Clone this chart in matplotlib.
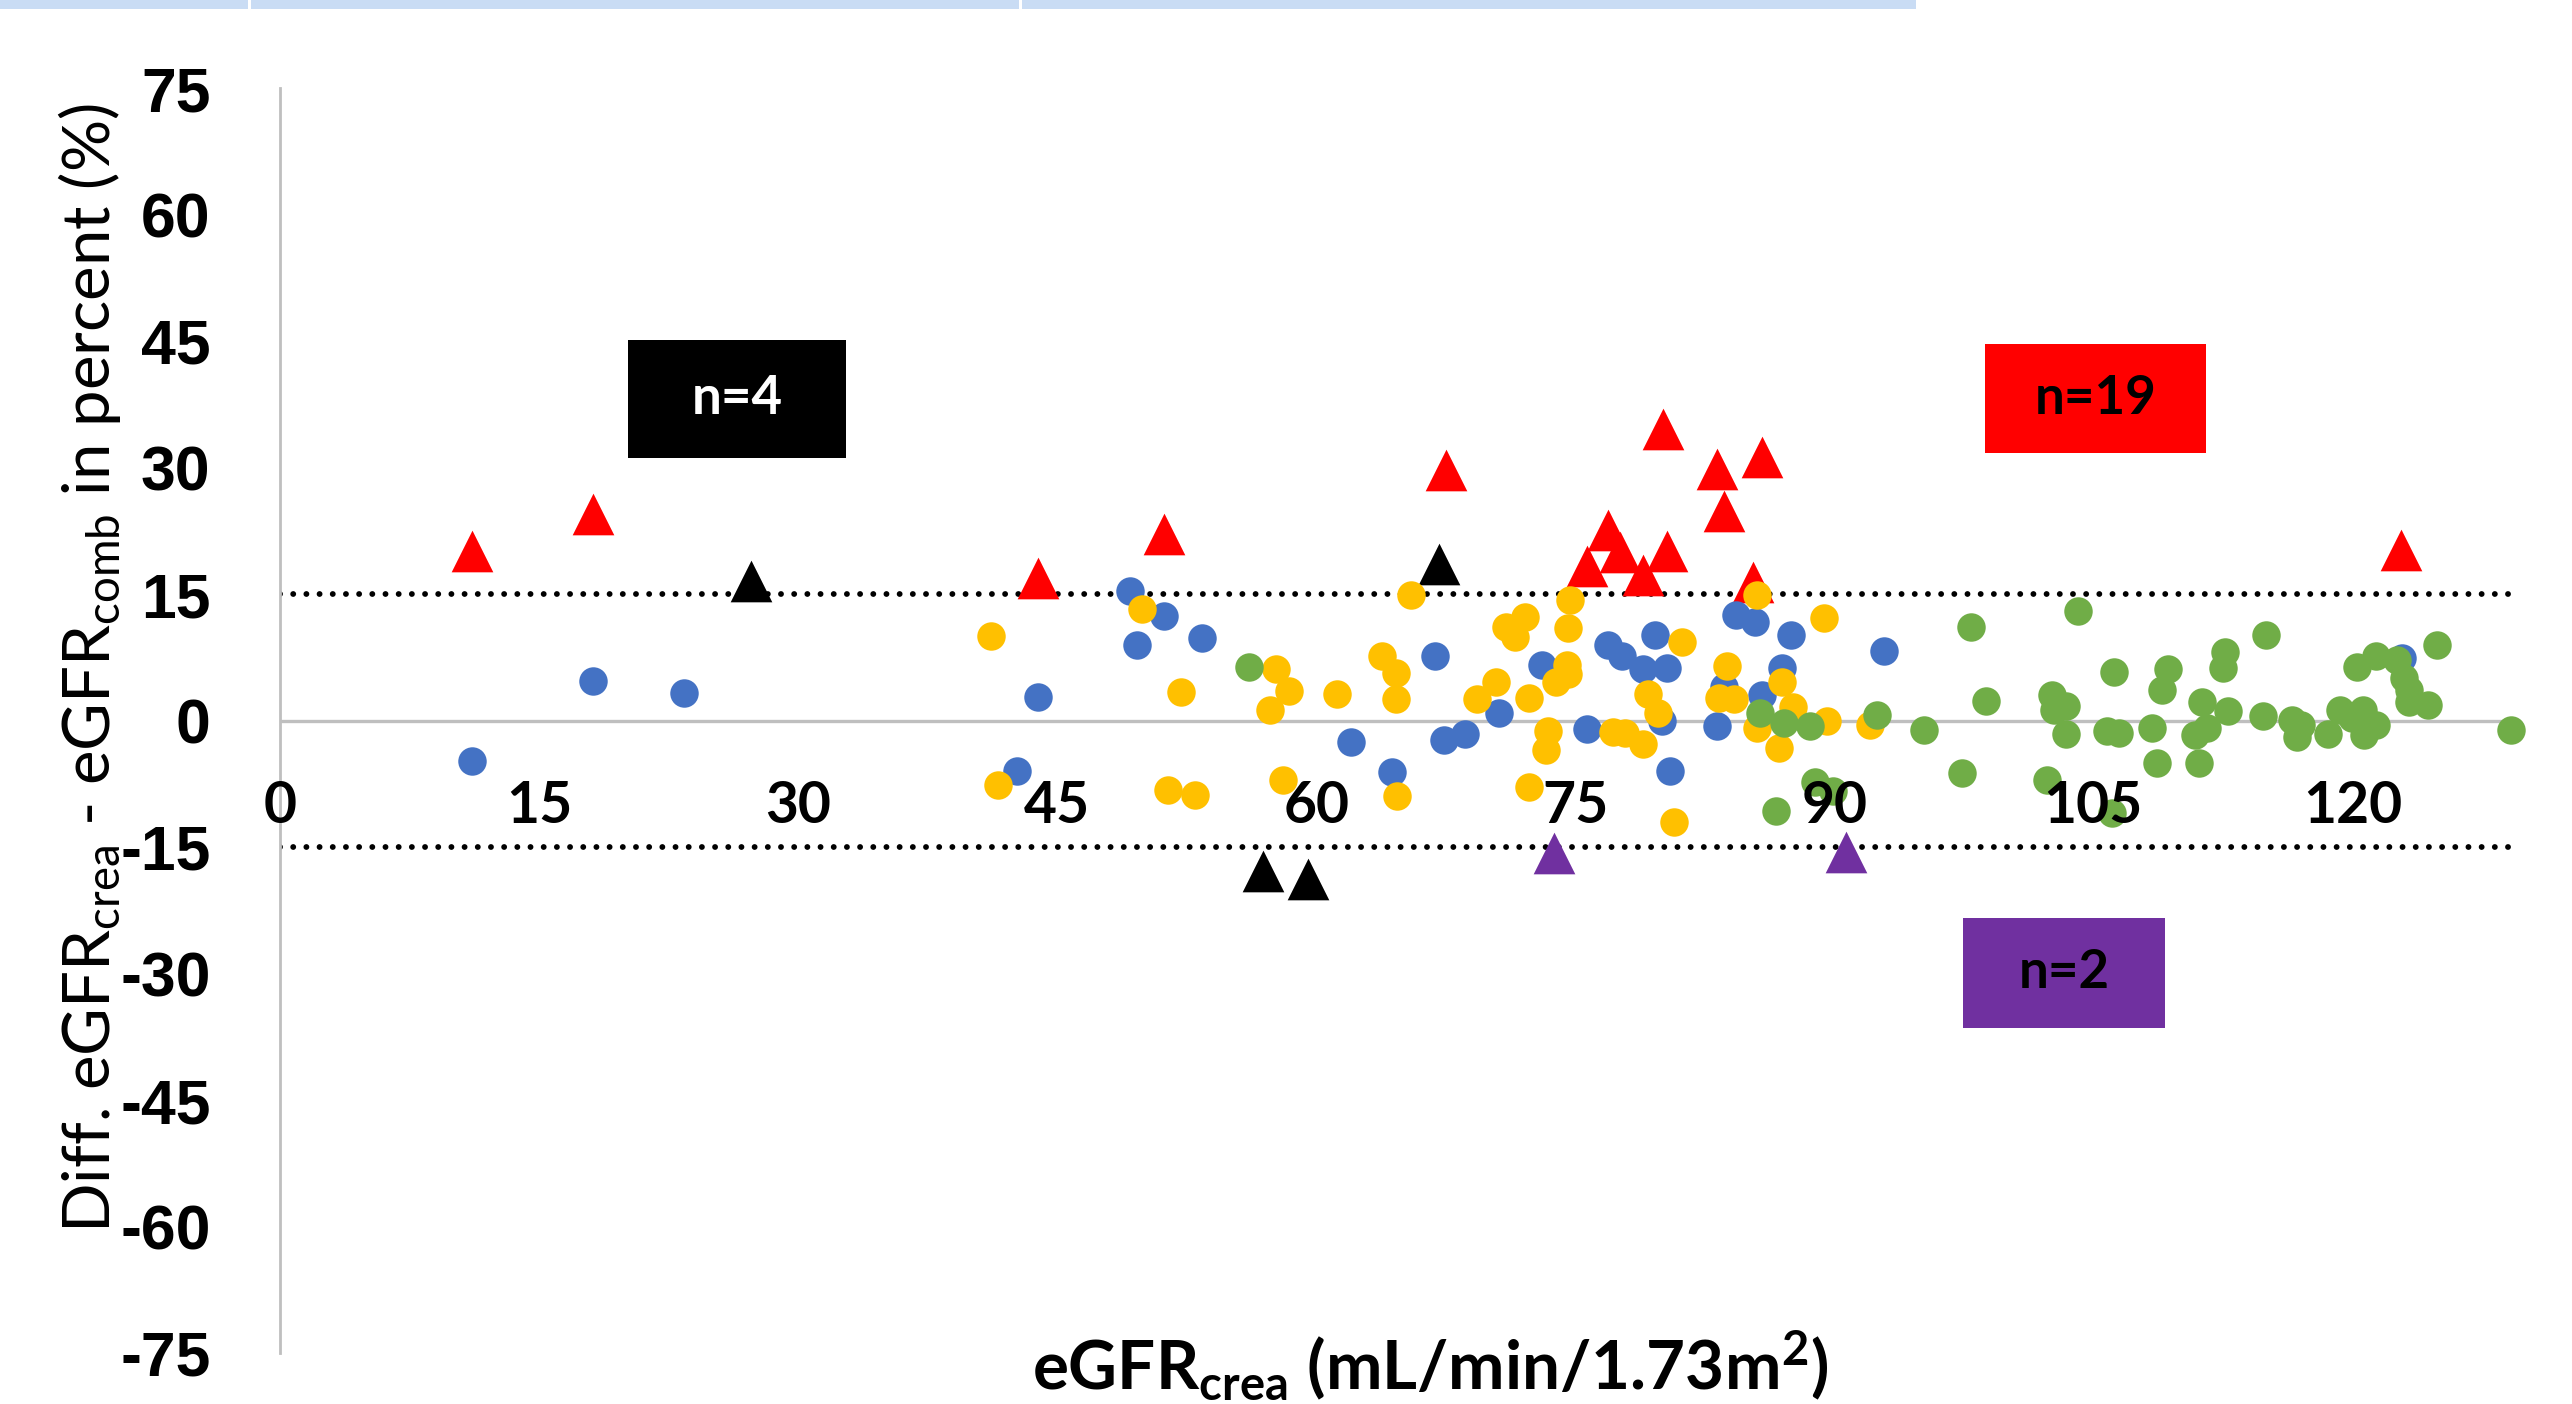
import matplotlib
matplotlib.use('Agg')
import matplotlib.pyplot as plt
from matplotlib.patches import Rectangle

W, H, DPI = 2572, 1404, 100

# ---------------- data ----------------
x_ticks = [0, 15, 30, 45, 60, 75, 90, 105, 120]
y_ticks = [75, 60, 45, 30, 15, 0, -15, -30, -45, -60, -75]
y_tick_labels = ['75', '60', '45', '30', '15', '0', '-15', '-30', '-45', '-60', '-75']
limits = [15, -15]

blue_x = [11.1, 18.1, 23.4, 43.9, 42.7, 49.2, 51.2, 53.4, 49.6, 62.0, 64.4, 66.9, 67.4,
          68.6, 70.6, 73.1, 75.7, 76.9, 77.7, 78.9, 80.3, 79.6, 80.0, 80.5, 84.3, 85.4,
          87.5, 92.9, 83.6, 87.0, 85.8, 83.2, 122.9]
blue_y = [-4.8, 4.7, 3.3, 2.8, -6.0, 15.3, 12.4, 9.8, 8.9, -2.5, -6.1, 7.7, -2.3,
          -1.6, 0.9, 6.6, -1.0, 9.0, 7.7, 6.1, 6.2, 10.1, -0.1, -6.0, 12.5, 11.7,
          10.1, 8.2, 4.0, 6.2, 3.0, -0.6, 7.4]

yellow_x = [41.2, 41.6, 49.9, 52.2, 51.4, 53.0, 57.7, 58.4, 57.3, 58.1, 61.2, 63.8, 64.6,
            64.6, 64.7, 65.5, 69.3, 70.4, 71.0, 71.5, 72.1, 72.3, 72.3, 73.9, 74.5, 74.6,
            73.4, 73.3, 74.7, 74.6, 77.2, 77.9, 78.9, 81.2, 79.2, 79.8, 80.7, 85.5, 89.4,
            83.8, 83.3, 84.2, 87.0, 87.6, 85.5, 86.8, 89.6, 92.1]
yellow_y = [10.0, -7.7, 13.2, 3.4, -8.2, -8.8, 6.1, 3.5, 1.2, -7.1, 3.2, 7.6, 5.6,
            2.6, -9.0, 14.9, 2.6, 4.6, 11.1, 9.9, 12.3, 2.7, -7.9, 4.6, 6.6, 5.5,
            -1.3, -3.5, 14.3, 11.0, -1.4, -1.5, -2.8, 9.3, 3.2, 0.9, -12.0, 14.9, 12.1,
            6.5, 2.7, 2.6, 4.6, 1.6, -0.9, -3.3, 0.0, -0.5]

green_x = [56.1, 85.7, 87.1, 88.6, 92.5, 95.2, 97.4, 88.9, 89.9, 86.6, 97.9, 98.8, 104.1,
           106.2, 109.3, 109.0, 112.6, 112.5, 115.0, 102.6, 103.4, 102.7, 103.4, 105.8,
           106.5, 108.4, 108.7, 111.3, 112.8, 111.6, 110.9, 111.1, 114.8, 102.3, 106.1,
           124.9, 120.3, 121.4, 122.6, 123.0, 123.3, 123.3, 124.4, 116.5, 117.0, 116.8,
           118.6, 119.3, 120.6, 120.7, 121.4, 129.2, 120.0]
green_y = [6.4, 0.9, -0.3, -0.7, 0.7, -1.1, -6.2, -7.3, -8.4, -10.7, 11.1, 2.3, 13.0,
           5.7, 6.1, 3.6, 8.1, 6.2, 10.1, 3.0, 1.7, 1.2, -1.6, -1.3,
           -1.5, -0.9, -5.0, 2.2, 1.1, -0.9, -1.7, -5.0, 0.5, -7.1, -11.0,
           9.0, 6.3, 7.6, 7.2, 5.0, 3.6, 2.2, 1.8, 0.1, -0.5, -2.0,
           -1.6, 1.2, 1.2, -1.7, -0.5, -1.1, 0.3]

red_x = [11.1, 18.1, 43.9, 51.2, 67.5, 80.1, 76.9, 75.7, 77.6, 78.9, 80.3, 83.2, 85.8,
         83.6, 85.3, 122.8]
red_y = [20.1, 24.5, 16.9, 22.1, 29.7, 34.6, 22.6, 18.3, 20.0, 17.2, 20.1, 29.8, 31.3,
         24.8, 16.4, 20.2]

black_x = [27.3, 67.1, 56.9, 59.5]
black_y = [16.6, 18.5, -17.8, -18.8]

purple_x = [73.8, 90.7]
purple_y = [-15.7, -15.6]

box_labels = ['n=4', 'n=19', 'n=2']

# ---------------- style ----------------
C_BLUE, C_YELLOW, C_GREEN = '#4472C4', '#FFC000', '#70AD47'
C_RED, C_BLACK, C_PURPLE = '#FF0000', '#000000', '#7030A0'
GRID = '#BFBFBF'

plt.rcParams['mathtext.fontset'] = 'custom'
plt.rcParams['mathtext.rm'] = 'Lato'
plt.rcParams['mathtext.it'] = 'Lato:italic'
plt.rcParams['mathtext.bf'] = 'Lato:bold'

fig = plt.figure(figsize=(W / DPI, H / DPI), dpi=DPI)
fig.patch.set_facecolor('white')

# top light-blue band (table remnant)
fig.add_artist(Rectangle((0, 1 - 9 / H), 1916 / W, 9 / H, transform=fig.transFigure,
                         color='#C9DCF4', lw=0))
for sx in (248, 1019):
    fig.add_artist(Rectangle((sx / W, 1 - 9 / H), 3 / W, 9 / H, transform=fig.transFigure,
                             color='white', lw=0))

L, R, T, B = 280, 2525, 88, 1353
ax = fig.add_axes([L / W, 1 - B / H, (R - L) / W, (B - T) / H])
ax.set_xlim(0, 130)
ax.set_ylim(-75, 75)
ax.patch.set_alpha(0)

for s in ('top', 'right'):
    ax.spines[s].set_visible(False)
ax.spines['left'].set_color(GRID)
ax.spines['left'].set_linewidth(2)
ax.spines['bottom'].set_position(('data', 0))
ax.spines['bottom'].set_visible(False)

ax.plot([0, 129.3], [0, 0], color=GRID, lw=2.4, zorder=0.5, solid_capstyle='butt')
for yl in limits:
    ax.plot([0, 129.6], [yl, yl], color='black', lw=4.2, zorder=0.6,
            linestyle=(0, (0.01, 2.25)), dash_capstyle='round')

S_TRI = 900
S_CIR = 420
ax.scatter(red_x, red_y, marker='^', s=S_TRI, color=C_RED, linewidths=0, zorder=1)
ax.scatter(black_x, black_y, marker='^', s=S_TRI, color=C_BLACK, linewidths=0, zorder=1)
ax.scatter(purple_x, purple_y, marker='^', s=S_TRI, color=C_PURPLE, linewidths=0, zorder=1)
ax.scatter(blue_x, blue_y, marker='o', s=S_CIR, color=C_BLUE, linewidths=0, zorder=1)
ax.scatter(yellow_x, yellow_y, marker='o', s=S_CIR, color=C_YELLOW, linewidths=0, zorder=1)
ax.scatter(green_x, green_y, marker='o', s=S_CIR, color=C_GREEN, linewidths=0, zorder=1)

ax.set_xticks(x_ticks)
ax.set_xticklabels([str(v) for v in x_ticks], fontfamily='Lato', fontweight='bold', fontsize=41)
ax.set_yticks(y_ticks)
ax.set_yticklabels(y_tick_labels, fontfamily='Liberation Sans', fontweight='bold', fontsize=45)
ax.tick_params(axis='x', length=0, pad=43)
ax.tick_params(axis='y', length=0, pad=50)
ax.xaxis.set_zorder(5)

# axis titles
fig.text(90 / W, 1 - 668 / H,
         r'Diff. eGFR$_{\mathrm{crea}}$ - eGFR$_{\mathrm{comb}}$ in percent (%)',
         rotation=90, ha='center', va='center', fontfamily='Lato', fontsize=47)
fig.text(1430 / W, 2 / H,
         r'eGFR$_{\mathbf{crea}}$ (mL/min/1.73m$^{\mathbf{2}}$)',
         ha='center', va='bottom', fontfamily='Lato', fontweight='bold', fontsize=48.5)

# annotation boxes (x0, y0, x1, y1 in pixels)
boxes = [((628, 340, 846, 458), C_BLACK, 'white'),
         ((1985, 344, 2206, 453), C_RED, 'black'),
         ((1963, 918, 2165, 1028), C_PURPLE, 'black')]
for lbl, ((x0, y0, x1, y1), fc, tc) in zip(box_labels, boxes):
    fig.add_artist(Rectangle((x0 / W, 1 - y1 / H), (x1 - x0) / W, (y1 - y0) / H,
                             transform=fig.transFigure, color=fc, lw=0, zorder=6))
    fig.text((x0 + x1) / 2 / W, 1 - (y0 + y1) / 2 / H, lbl, ha='center', va='center',
             fontfamily='Lato', fontweight='bold', fontsize=38, color=tc, zorder=7)

fig.savefig('out.png', dpi=DPI)
